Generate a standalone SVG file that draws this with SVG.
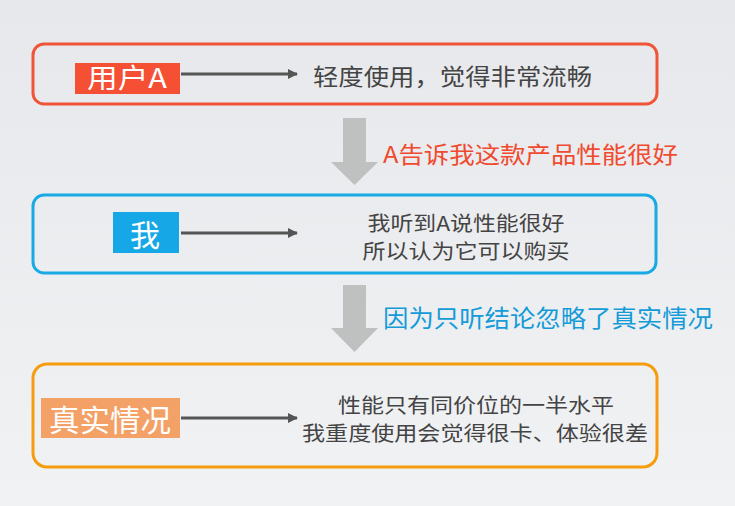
<svg xmlns="http://www.w3.org/2000/svg" width="735" height="506" viewBox="0 0 735 506">
<defs>
<linearGradient id="bg" x1="0" y1="0" x2="0" y2="1">
<stop offset="0" stop-color="#e7e8eb"/>
<stop offset="1" stop-color="#f1f2f4"/>
</linearGradient>
<marker id="ah" viewBox="0 0 10 10" refX="9" refY="5" markerWidth="10" markerHeight="10" markerUnits="userSpaceOnUse" orient="auto">
<path d="M0,0 L10,5 L0,10 z" fill="#555"/>
</marker>
</defs>
<style>
text{font-family:"Noto Sans CJK SC","Noto Sans",sans-serif;dominant-baseline:central}
.box{fill:none;stroke-width:3}
.lbl{fill:#fff;text-anchor:middle}
.body{fill:#444;font-size:20px;text-anchor:middle}
.conn{stroke:#555;stroke-width:3;fill:none;marker-end:url(#ah)}
.big{fill:#bfc1c0}
</style>
<rect width="735" height="506" fill="url(#bg)"/>
<g id="node-userA">
<rect class="box" x="33" y="44" width="624" height="60" rx="11" stroke="#f05538"/>
<rect x="75" y="63" width="105" height="31" fill="#f55034"/>
<text class="lbl" x="127" y="76" font-size="27" textLength="80" lengthAdjust="spacingAndGlyphs">用户A</text>
<text x="313" y="75" font-size="23" fill="#444" textLength="279" lengthAdjust="spacingAndGlyphs">轻度使用，觉得非常流畅</text>
</g>
<g id="node-me">
<rect class="box" x="33" y="195" width="623" height="78" rx="11" stroke="#18aae4"/>
<rect x="113" y="212" width="66" height="41" fill="#16a8e6"/>
<text class="lbl" x="145" y="233" font-size="30">我</text>
<text class="body" x="466" y="222" textLength="197" lengthAdjust="spacingAndGlyphs">我听到A说性能很好</text>
<text class="body" x="466" y="250" textLength="207" lengthAdjust="spacingAndGlyphs">所以认为它可以购买</text>
</g>
<g id="node-real">
<rect class="box" x="33" y="364" width="624" height="103" rx="14" stroke="#f59d0e"/>
<rect x="41" y="398" width="139" height="40" fill="#f3a167"/>
<text class="lbl" x="110" y="418" font-size="30" textLength="122" lengthAdjust="spacingAndGlyphs">真实情况</text>
<text class="body" x="476" y="404" textLength="276" lengthAdjust="spacingAndGlyphs">性能只有同价位的一半水平</text>
<text class="body" x="475" y="432" textLength="346" lengthAdjust="spacingAndGlyphs">我重度使用会觉得很卡、体验很差</text>
</g>
<g id="connectors">
<line class="conn" x1="181" y1="74" x2="297" y2="74"/>
<line class="conn" x1="181" y1="233" x2="297" y2="233"/>
<line class="conn" x1="181" y1="418" x2="297" y2="418"/>
<path class="big" d="M343,118 H366 V162 H378 L354.5,185 L331,162 H343 Z"/>
<path class="big" d="M343,285 H366 V328 H378 L354.5,352 L331,328 H343 Z"/>
<text x="383" y="153" font-size="23" fill="#f04a2f" textLength="295" lengthAdjust="spacingAndGlyphs">A告诉我这款产品性能很好</text>
<text x="383" y="316" font-size="24" fill="#149bd8" textLength="330" lengthAdjust="spacingAndGlyphs">因为只听结论忽略了真实情况</text>
</g>
</svg>
